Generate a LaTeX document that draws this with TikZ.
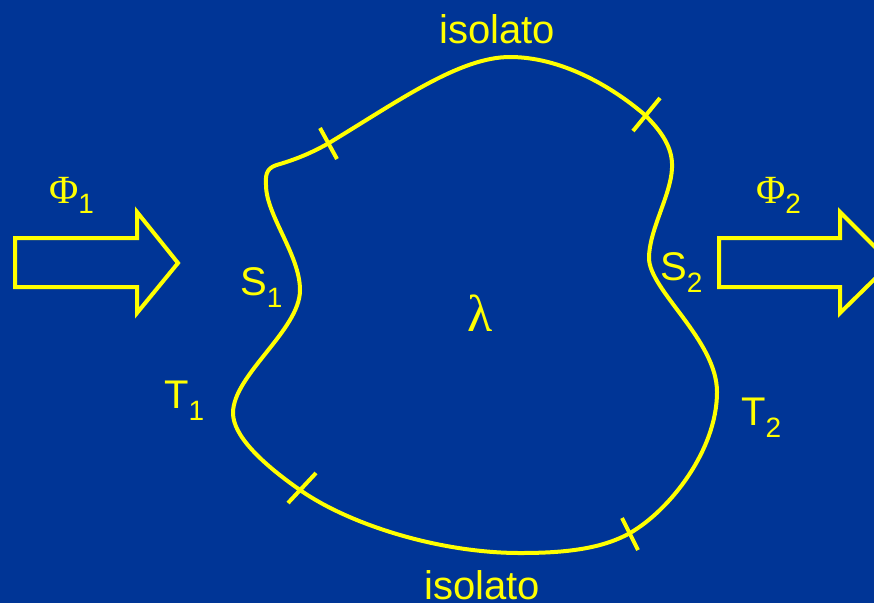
\documentclass[tikz,border=0pt]{standalone}
\usepackage{fontspec}
\setmainfont{Liberation Sans}
\newfontfamily\isoSerif{Liberation Serif}
\definecolor{isoBlue}{RGB}{0,53,150}
\definecolor{isoYellow}{RGB}{255,255,0}
\newcommand{\isoSub}[2]{#1\raisebox{-0.3em}{\fontsize{28}{30}\selectfont #2}}
\newcommand{\isoFlux}[1]{{\isoSerif\fontsize{40}{48}\selectfont Φ}\raisebox{-10pt}{\fontsize{28}{30}\selectfont #1}}

\begin{document}
\begin{tikzpicture}[x=1pt,y=-1pt]
\tikzset{isoline/.style={draw=isoYellow, line width=4pt},
  isoarrow/.style={draw=isoYellow, line width=4pt, line join=miter},
  isotext/.style={text=isoYellow, inner sep=0pt, font=\fontsize{40}{48}\selectfont}}
\fill[isoBlue] (0,0) rectangle (874,603);
\useasboundingbox (0,0) rectangle (874,603);
\clip (0,0) rectangle (874,603);
\draw[isoline] (280,164) .. controls (300,158) and (315,151) .. (329,143)
  .. controls (400,100) and (460,57) .. (510,57)
  .. controls (560,57) and (610,85) .. (645,115)
  .. controls (662,132) and (673,148) .. (672,168)
  .. controls (671,195) and (649,230) .. (649,258)
  .. controls (649,290) and (717,340) .. (717,392)
  .. controls (717,450) and (670,510) .. (630,533)
  .. controls (600,550) and (560,553) .. (520,553)
  .. controls (440,553) and (350,525) .. (300,490)
  .. controls (260,462) and (233,435) .. (233,413)
  .. controls (233,375) and (300,330) .. (300,290)
  .. controls (300,255) and (266,215) .. (266,185)
  .. controls (265,172) and (268,167) .. cycle;
\draw[isoline] (320,128) -- (337,159);
\draw[isoline] (660,98) -- (633,131);
\draw[isoline] (316,473) -- (288,503);
\draw[isoline] (622,518) -- (638,550);
\draw[isoarrow] (15,238) -- (137,238) -- (137,212) -- (178,263) -- (137,313) -- (137,287) -- (15,287) -- cycle;
\draw[isoarrow] (719,238) -- (840,238) -- (840,212) -- (891,263) -- (840,313) -- (840,287) -- (719,287) -- cycle;
\node[isotext, anchor=base] (isoTop) at (497,43) {isolato};
\node[isotext, anchor=base] (isoBottom) at (482,599) {isolato};
\node[isotext, anchor=base west] (phiIn) at (49,203) {\isoFlux{1}};
\node[isotext, anchor=base west] (phiOut) at (756,203) {\isoFlux{2}};
\node[isotext, anchor=base west] (sIn) at (240,295) {\isoSub{S}{1}};
\node[isotext, anchor=base west] (sOut) at (660,280) {\isoSub{S}{2}};
\node[isotext, anchor=base west] (tIn) at (164,408) {\isoSub{T}{1}};
\node[isotext, anchor=base west] (tOut) at (741,425) {\isoSub{T}{2}};
\node[isotext, anchor=base, font=\isoSerif\fontsize{52}{60}\selectfont] (lambda) at (480,331) {λ};
\end{tikzpicture}
\end{document}
